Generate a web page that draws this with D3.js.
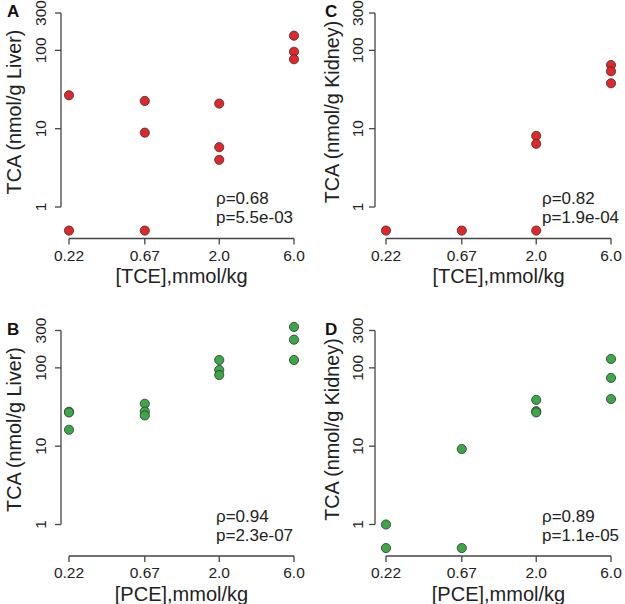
<!DOCTYPE html>
<html><head><meta charset="utf-8">
<script src="https://cdn.jsdelivr.net/npm/d3@7"></script>
<style>body{margin:0;background:#fff}svg{display:block;font-family:"Liberation Sans",Arial,Helvetica,sans-serif}</style>
</head><body><svg id="c" width="625" height="604"></svg>
<script>
const doses = [0.22, 0.67, 2.0, 6.0];
const doseLabels = ["0.22", "0.67", "2.0", "6.0"];
const yTicks = [1, 10, 100, 300];
const yTickLabels = ["1", "10", "100", "300"];

// TCA values per dose group (nmol/g)
const tceLiver = [[26.7, 0.5], [22.6, 8.9, 0.5], [20.9, 5.8, 4.0], [154, 96, 77]];
const tceKidney = [[0.5], [0.5], [8.1, 6.4, 0.5], [65, 54, 38]];
const pceLiver = [[27.5, 27.0, 16.2], [34.8, 27.7, 24.7], [126, 94, 81], [333, 229, 126]];
const pceKidney = [[1.0, 0.5], [9.2, 0.5], [39, 28, 27], [130, 74.5, 40]];

const panelLetters = ["A", "C", "B", "D"];
const yTitles = ["TCA (nmol/g Liver)", "TCA (nmol/g Kidney)", "TCA (nmol/g Liver)", "TCA (nmol/g Kidney)"];
const xTitles = ["[TCE],mmol/kg", "[TCE],mmol/kg", "[PCE],mmol/kg", "[PCE],mmol/kg"];
const rhoTexts = ["ρ=0.68", "ρ=0.82", "ρ=0.94", "ρ=0.89"];
const pTexts = ["p=5.5e-03", "p=1.9e-04", "p=2.3e-07", "p=1.1e-05"];
const seriesList = [tceLiver, tceKidney, pceLiver, pceKidney];
const colors = ["#e3262a", "#e3262a", "#3aa845", "#3aa845"];

const svg = d3.select("#c");
const axisCol = "#444";

// layout per panel
const layouts = [
  {ax: 61, x0: 69, x1: 294, dy: 0, tx: 216, lab: 7, tickOff: 15.5, titleX: 21},
  {ax: 375, x0: 386, x1: 611, dy: 0, tx: 542, lab: 325, tickOff: 12.5, titleX: 339},
  {ax: 61, x0: 69, x1: 294, dy: 317.5, tx: 216, lab: 7, tickOff: 15.5, titleX: 21},
  {ax: 375, x0: 386, x1: 611, dy: 317.5, tx: 542, lab: 325, tickOff: 12.5, titleX: 339}
];

layouts.forEach((L, i) => {
  const g = svg.append("g");
  const x = d3.scaleLog().domain([doses[0], doses[3]]).range([L.x0, L.x1]);
  const y = d3.scaleLog().domain([1, 300]).range([207 + L.dy, 13 + L.dy]);
  const xAxisY = 238.5 + L.dy;

  // y axis
  g.append("line").attr("x1", L.ax).attr("x2", L.ax).attr("y1", y(300)).attr("y2", y(1))
    .attr("stroke", axisCol).attr("stroke-width", 1.3);
  yTicks.forEach((t, k) => {
    g.append("line").attr("x1", L.ax - 6).attr("x2", L.ax).attr("y1", y(t)).attr("y2", y(t))
      .attr("stroke", axisCol).attr("stroke-width", 1.3);
    g.append("text").attr("transform", `translate(${L.ax - L.tickOff},${y(t)}) rotate(-90)`)
      .attr("text-anchor", "middle").attr("font-size", 15.5).attr("fill", "#222").text(yTickLabels[k]);
  });
  // x axis
  g.append("line").attr("x1", x(doses[0])).attr("x2", x(doses[3])).attr("y1", xAxisY).attr("y2", xAxisY)
    .attr("stroke", axisCol).attr("stroke-width", 1.3);
  doses.forEach((d, k) => {
    g.append("line").attr("x1", x(d)).attr("x2", x(d)).attr("y1", xAxisY).attr("y2", xAxisY + 6)
      .attr("stroke", axisCol).attr("stroke-width", 1.3);
    g.append("text").attr("x", x(d)).attr("y", 260.5 + L.dy).attr("text-anchor", "middle")
      .attr("font-size", 15.5).attr("fill", "#222").text(doseLabels[k]);
  });
  // titles
  g.append("text").attr("x", (L.x0 + L.x1) / 2).attr("y", 283 + L.dy).attr("text-anchor", "middle")
    .attr("font-size", 20).attr("fill", "#222").text(xTitles[i]);
  g.append("text").attr("transform", `translate(${L.titleX},${112 + L.dy}) rotate(-90)`)
    .attr("text-anchor", "middle").attr("font-size", 19.8).attr("fill", "#222").text(yTitles[i]);
  g.append("text").attr("x", L.lab).attr("y", 17 + L.dy).attr("font-size", 17).attr("font-weight", "bold")
    .attr("fill", "#111").text(panelLetters[i]);
  // stats
  g.append("text").attr("x", L.tx).attr("y", 204 + L.dy).attr("font-size", 17).attr("fill", "#222").text(rhoTexts[i]);
  g.append("text").attr("x", L.tx).attr("y", 223 + L.dy).attr("font-size", 17).attr("fill", "#222").text(pTexts[i]);

  // points
  const pts = [];
  seriesList[i].forEach((vals, k) => vals.forEach(v => pts.push({d: doses[k], v})));
  g.selectAll("circle").data(pts).join("circle")
    .attr("cx", p => x(p.d)).attr("cy", p => y(p.v)).attr("r", 4.6)
    .attr("fill", colors[i]).attr("stroke", "#333").attr("stroke-width", 0.8);
});
</script></body></html>
